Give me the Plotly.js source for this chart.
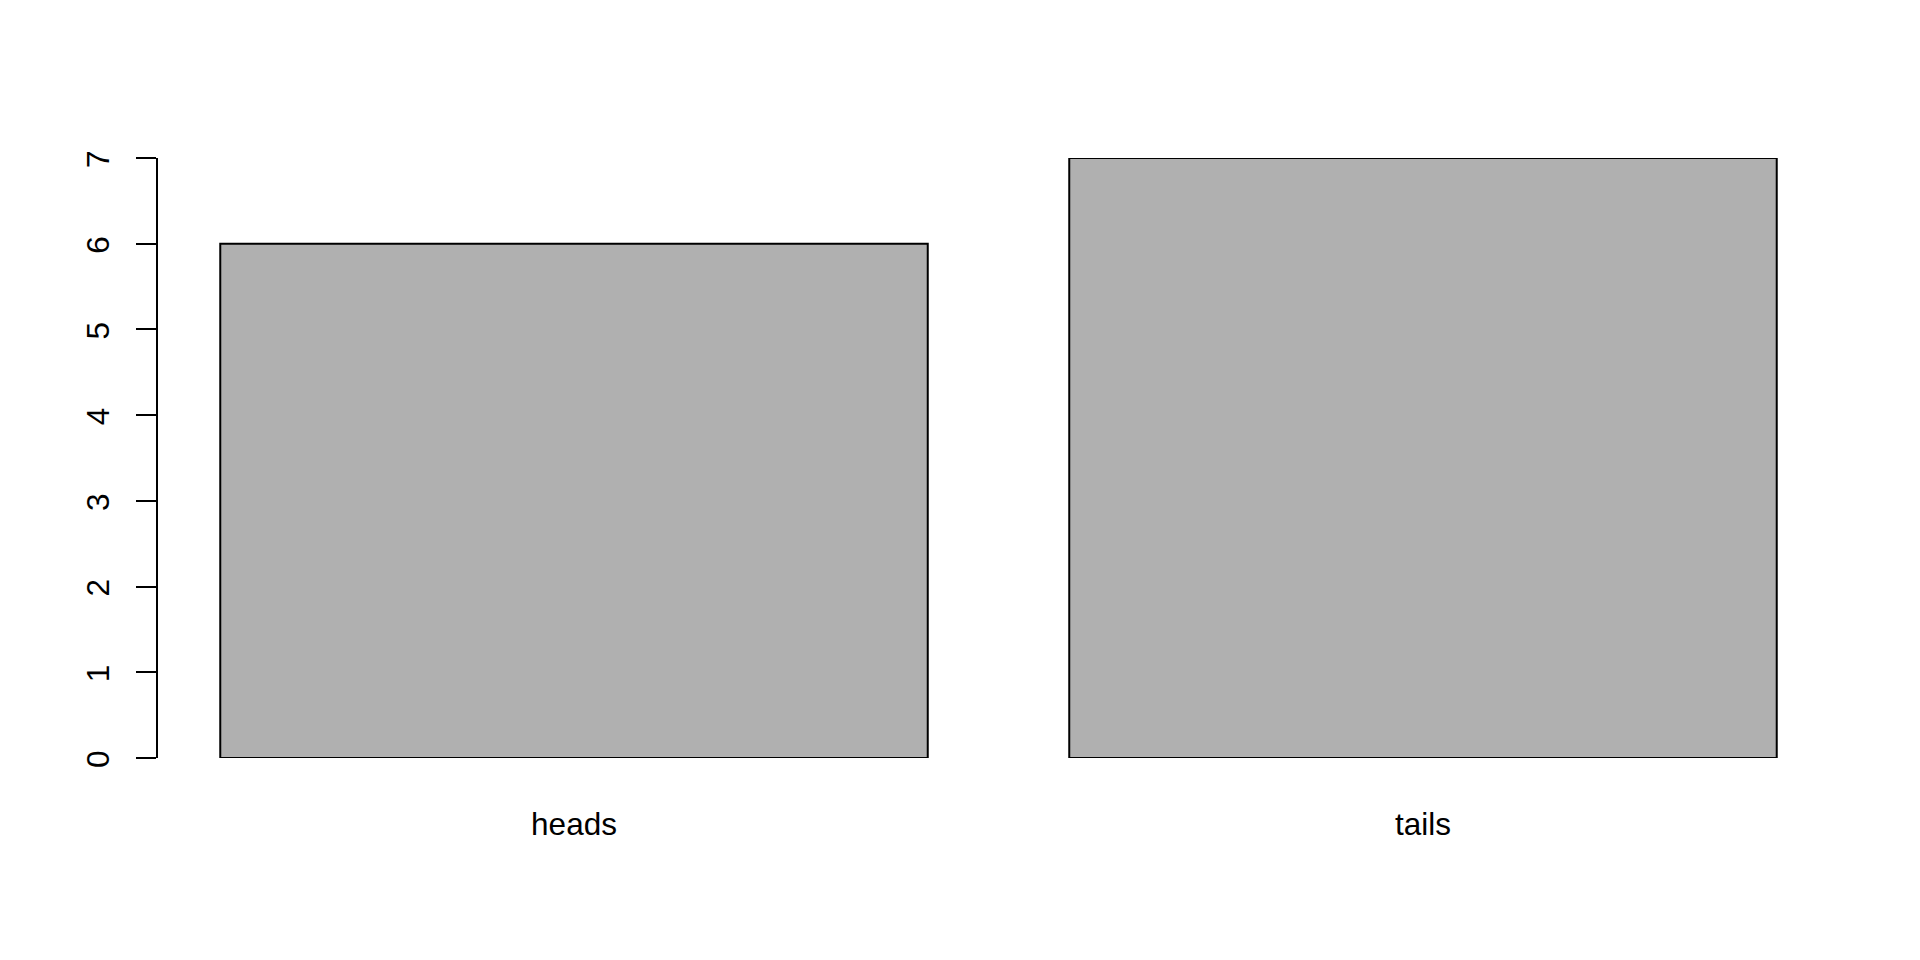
<!DOCTYPE html>
<html>
<head>
<meta charset="utf-8">
<script src="https://cdn.plot.ly/plotly-3.0.1.min.js"></script>
<style>html,body{margin:0;padding:0;background:#fff;}#chart{width:1920px;height:960px;}</style>
</head>
<body>
<div id="chart"></div>
<script>
const categories = ["heads", "tails"];
const counts = [6, 7];
const yTicks = [0, 1, 2, 3, 4, 5, 6, 7];

// R barplot positions: width 1, space 0.2
const barPos = categories.map((c, i) => 0.7 + i * 1.2);

const trace = {
  type: "bar",
  x: barPos,
  y: counts,
  width: 1,
  cliponaxis: false,
  marker: {color: "#B0B0B0", line: {color: "#000000", width: 2}},
  hoverinfo: "none"
};

const layout = {
  width: 1920,
  height: 960,
  paper_bgcolor: "#ffffff",
  plot_bgcolor: "#ffffff",
  showlegend: false,
  margin: {l: 157.5, r: 80.7, t: 158, b: 202, pad: 0},
  font: {family: "Liberation Sans, Arial, Helvetica, sans-serif", size: 31.5, color: "#000"},
  xaxis: {
    range: [0.112, 2.488],
    tickvals: barPos,
    ticktext: categories,
    showline: false,
    showgrid: false,
    zeroline: false,
    ticks: "",
    ticklabelstandoff: 44,
    tickfont: {size: 31.5, color: "#000"}
  },
  yaxis: {
    range: [0, 7],
    tickvals: yTicks,
    ticktext: yTicks.map(String),
    showline: true,
    linecolor: "#000",
    linewidth: 2,
    showgrid: false,
    zeroline: false,
    ticks: "outside",
    ticklen: 20,
    tickwidth: 2,
    tickcolor: "#000",
    tickangle: -90,
    ticklabelstandoff: 14,
    ticklabelshift: 6,
    tickfont: {size: 31.5, color: "#000"}
  }
};

Plotly.newPlot("chart", [trace], layout, {displayModeBar: false, staticPlot: true});
</script>
</body>
</html>
